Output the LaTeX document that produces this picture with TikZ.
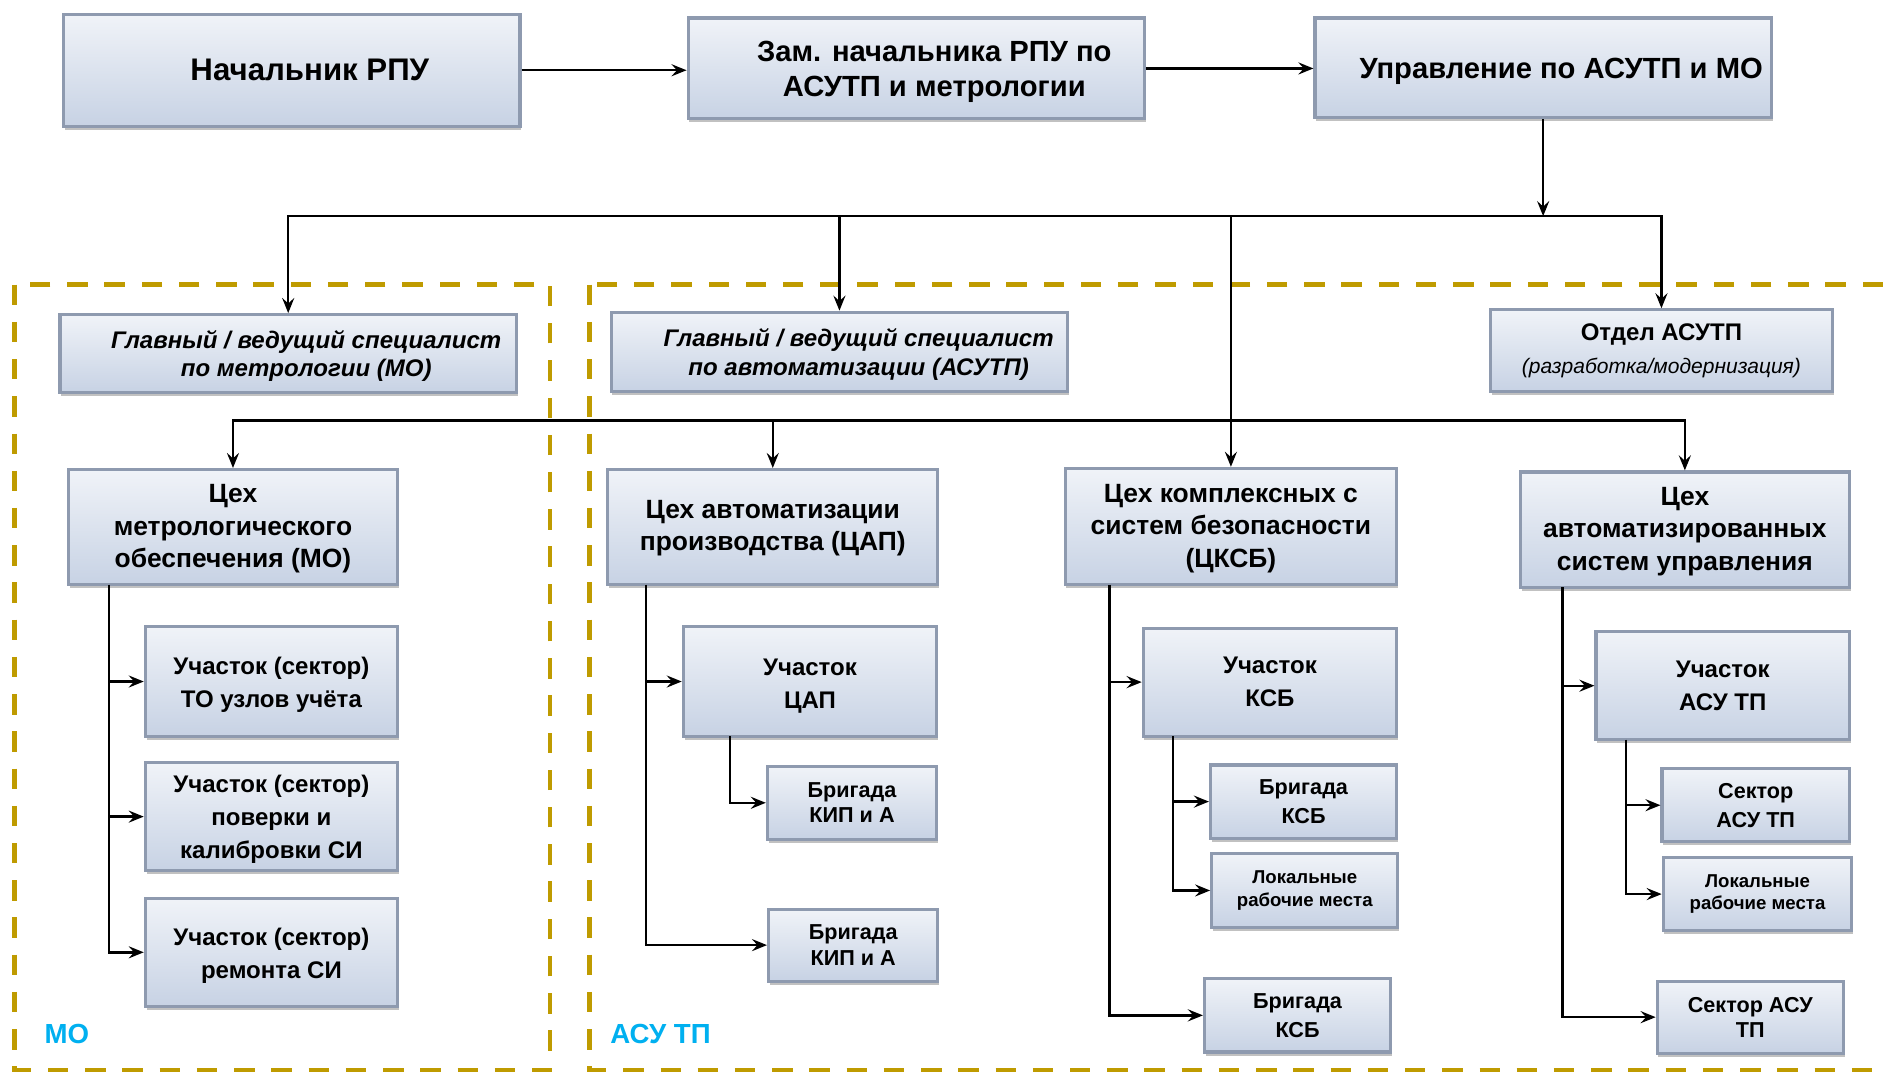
\documentclass[tikz,border=0pt]{standalone}
\usepackage{fontspec}
\setmainfont{Liberation Sans}
\usetikzlibrary{arrows.meta,shadows}
\definecolor{goldline}{RGB}{191,155,0}
\definecolor{boxtop}{RGB}{240,243,248}
\definecolor{boxbot}{RGB}{199,210,228}
\definecolor{boxline}{RGB}{142,154,175}
\definecolor{cyanlbl}{RGB}{0,176,240}
\tikzset{
  box/.style={draw=boxline, line width=2.6pt, top color=boxtop, bottom color=boxbot,
    drop shadow={shadow xshift=1pt, shadow yshift=-3pt, opacity=0.4, fill=black!60}, inner sep=0pt},
  conn/.style={line width=2pt, draw=black, -{Stealth[length=12.5pt,width=10pt,inset=4.5pt]}},
  region/.style={draw=goldline, line width=4pt, dash pattern=on 17pt off 14pt},
  ttopa/.style={font=\fontsize{26}{30}\selectfont\bfseries, align=center},
  ttop/.style={font=\fontsize{24.3}{29}\selectfont\bfseries, align=center},
  tspec/.style={font=\fontsize{20}{24}\selectfont\bfseries\itshape, align=center},
  tceh/.style={font=\fontsize{22}{27}\selectfont\bfseries, align=center},
  tuch/.style={font=\fontsize{20}{27.5}\selectfont\bfseries, align=center},
  tbrig/.style={font=\fontsize{18}{21}\selectfont\bfseries, align=center},
  tbrigb/.style={font=\fontsize{18}{24}\selectfont\bfseries, align=center},
  tloc/.style={font=\fontsize{15.5}{19}\selectfont\bfseries, align=center},
  lbl/.style={font=\fontsize{23}{27}\selectfont\bfseries, text=cyanlbl, anchor=west, inner sep=0pt},
}
% #1 text style, #2 name, #3-#6 box corners, #7 text shift options, #8 text
\newcommand{\obox}[8]{%
  \node[box, minimum width={#5pt-#3pt}, minimum height={#6pt-#4pt}] (#2) at ({(#3+#5)/2},{(#4+#6)/2}) {};
  \node[#1] (#2t) at ([#7]#2.center) {#8};}

\begin{document}
\begin{tikzpicture}[x=1pt, y=-1pt]
\clip (0,0) rectangle (1568,894);
\fill[white] (0,0) rectangle (1568,894);

% regions
\draw[region] (12,237) rectangle (458,891);
\draw[region] (491,237) rectangle (1600,891);
\node[lbl] (lmo) at (37,861) {МО};
\node[lbl] (lasu) at (508,861) {АСУ ТП};

% top row
\obox{ttopa}{A}{53}{12}{433}{105}{xshift=15pt}{Начальник РПУ}
\obox{ttop}{B}{573}{15}{953}{99}{xshift=15pt,yshift=-3pt}{Зам. начальника РПУ по\\АСУТП и метрологии}
\obox{ttop}{C}{1095}{15}{1475}{98}{xshift=15pt,yshift=-3pt}{Управление по АСУТП и МО}

% second row
\obox{tspec}{D}{50}{262}{430}{327}{xshift=15pt,yshift=-2pt}{Главный / ведущий специалист\\по метрологии (МО)}
\obox{tspec}{E}{509}{260}{889}{326}{xshift=16pt,yshift=-2pt}{Главный / ведущий специалист\\по автоматизации (АСУТП)}
\obox{tspec}{F}{1241}{258}{1526}{326}{yshift=0pt}{\upshape Отдел АСУТП\\[3pt]{\fontsize{17.5}{19}\selectfont\mdseries\itshape (разработка/модернизация)}}

% workshops
\obox{tceh}{G}{57}{391}{331}{487}{yshift=-1.5pt}{Цех\\метрологического\\обеспечения (МО)}
\obox{tceh}{H}{506}{391}{781}{487}{yshift=-1pt}{Цех автоматизации\\производства (ЦАП)}
\obox{tceh}{I}{887}{390}{1163}{487}{yshift=-1.5pt}{Цех комплексных с\\систем безопасности\\(ЦКСБ)}
\obox{tceh}{J}{1266}{393}{1540}{489}{yshift=-1.5pt}{Цех\\автоматизированных\\систем управления}

% MO subtree
\obox{tuch}{K}{121}{522}{331}{613}{yshift=-3pt}{Участок (сектор)\\ТО узлов учёта}
\obox{tuch}{L}{121}{635}{331}{725}{yshift=-2pt}{Участок (сектор)\\поверки и\\калибровки СИ}
\obox{tuch}{M}{121}{748}{331}{838}{yshift=-3pt}{Участок (сектор)\\ремонта СИ}

% CAP subtree
\obox{tuch}{N}{569}{522}{780}{613}{yshift=-3.5pt}{Участок\\ЦАП}
\obox{tbrig}{O}{639}{638}{780}{699}{yshift=0pt}{Бригада\\КИП и А}
\obox{tbrig}{P}{640}{757}{781}{817}{yshift=0pt}{Бригада\\КИП и А}

% CKSB subtree
\obox{tuch}{Q}{952}{523}{1163}{613}{yshift=0pt}{Участок\\КСБ}
\obox{tbrigb}{R}{1008}{637}{1163}{698}{yshift=0pt}{Бригада\\КСБ}
\obox{tloc}{S}{1009}{711}{1164}{772}{yshift=0pt}{Локальные\\рабочие места}
\obox{tbrigb}{T}{1003}{815}{1158}{876}{yshift=0pt}{Бригада\\КСБ}

% ASU subtree
\obox{tuch}{U}{1329}{526}{1540}{616}{yshift=0pt}{Участок\\АСУ ТП}
\obox{tbrigb}{V}{1384}{640}{1540}{701}{yshift=0pt}{Сектор\\АСУ ТП}
\obox{tloc}{W}{1385}{714}{1542}{775}{yshift=0pt}{Локальные\\рабочие места}
\obox{tbrig}{X}{1380}{817}{1535}{877}{yshift=0pt}{Сектор АСУ\\ТП}

% connectors top
\draw[conn] (A.east) -- (A.east -| B.west);
\draw[conn] (B.east) -- (B.east -| C.west);
\coordinate (j1) at (1285,180);
\coordinate (j2) at (1025,350);
\draw[conn] (C.south) -- (j1);
\draw[conn] (j1) -| (D.north);
\draw[conn] (j1) -| (E.north);
\draw[conn] (j1) -| (F.north);
\draw[conn] (j1) -| (I.north);
\draw[conn] (j2) -| (G.north);
\draw[conn] (j2) -| (H.north);
\draw[conn] (j2) -| (J.north);

% subtrees
\coordinate (gs) at (91,487);
\draw[conn] (gs) |- (K.west);
\draw[conn] (gs) |- (L.west);
\draw[conn] (gs) |- (M.west);

\coordinate (hs) at (538,487);
\coordinate (ns) at (608,613);
\draw[conn] (hs) |- (N.west);
\draw[conn] (hs) |- (P.west);
\draw[conn] (ns) |- (O.west);

\coordinate (is) at (924,487);
\coordinate (qs) at (977,613);
\draw[conn] (is) |- (Q.west);
\draw[conn] (is) |- (T.west);
\draw[conn] (qs) |- (R.west);
\draw[conn] (qs) |- (S.west);

\coordinate (js) at (1301,489);
\coordinate (us) at (1354,616);
\draw[conn] (js) |- (U.west);
\draw[conn] (js) |- (X.west);
\draw[conn] (us) |- (V.west);
\draw[conn] (us) |- (W.west);
\end{tikzpicture}
\end{document}
